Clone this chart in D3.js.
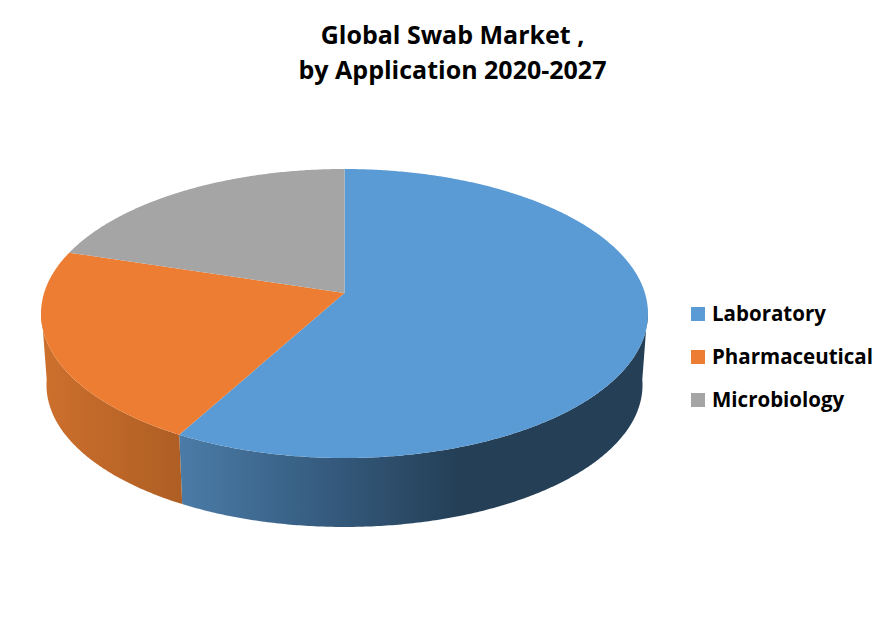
<!DOCTYPE html>
<html>
<head>
<meta charset="utf-8">
<script src="https://cdn.jsdelivr.net/npm/d3@7"></script>
<style>
  html, body { margin: 0; padding: 0; background: #fff; }
  text { font-family: "Open Sans", sans-serif; font-weight: 700; fill: #000; }
</style>
</head>
<body>
<div id="vis"></div>
<script>
const categories = ["Laboratory", "Pharmaceutical", "Microbiology"];
const shares = [58, 21.8, 20.2];
const topColors = ["#5b9bd5", "#ec7d32", "#a5a5a5"];
const titleLines = ["Global Swab Market ,", "by Application 2020-2027"];

const width = 893, height = 623;

let svg = d3.select("#vis").append("svg")
  .attr("width", width)
  .attr("height", height)
  .style("display", "block");

// the pie is tilted with perspective, so the apex is not the middle of the ellipse
const apex = { x: 344.5, y: 293 };
const tilt = 0.1419, scaleU = 300.4, scaleV = 141.6;
// the lower rim is a bit smaller and further down
const rimScale = 0.982, rimShift = 77.2;

function topPoint(a) {
  const u = Math.sin(a), v = -Math.cos(a);
  const w = 1 - tilt * v;
  return [apex.x + scaleU * u / w, apex.y + scaleV * v / w];
}

function rimPoint(a) {
  const p = topPoint(a);
  return [apex.x + (p[0] - apex.x) * rimScale, p[1] * rimScale + rimShift];
}

const line = d3.line();
const step = Math.PI / 360;
const toRad = d3.scaleLinear().domain([0, 180]).range([0, Math.PI]);

const slices = d3.pie().sort(null).value(d => d)(shares);

// sides first, top faces go over them
const defs = svg.append("defs");

function sideGradient(id, stops, x1, x2) {
  const g = defs.append("linearGradient")
    .attr("id", id)
    .attr("gradientUnits", "userSpaceOnUse")
    .attr("x1", x1).attr("x2", x2)
    .attr("y1", 0).attr("y2", 0);
  stops.forEach(s => g.append("stop").attr("offset", s[0]).attr("stop-color", s[1]));
}

sideGradient("sideBlue", [[0, "#4a7ba6"], [0.5, "#365c80"], [1, "#243f56"]], 183, 460);
sideGradient("sideOrange", [[0, "#cd702d"], [1, "#ae5e24"]], 41, 183);

const frontStart = toRad(96), frontEnd = toRad(264);
const sideFills = ["url(#sideBlue)", "url(#sideOrange)"];

slices.slice(0, 2).forEach((s, i) => {
  const a0 = Math.max(s.startAngle, frontStart), a1 = Math.min(s.endAngle, frontEnd);
  const angles = d3.range(a0, a1, step).concat([a1]);
  const pts = angles.map(topPoint).concat(angles.slice().reverse().map(rimPoint));
  svg.append("path")
    .attr("d", line(pts) + "Z")
    .attr("fill", sideFills[i]);
});

slices.forEach((s, i) => {
  const angles = d3.range(s.startAngle, s.endAngle, step).concat([s.endAngle]);
  const pts = [[apex.x, apex.y]].concat(angles.map(topPoint));
  svg.append("path")
    .attr("d", line(pts) + "Z")
    .attr("fill", topColors[i]);
});

// title
svg.selectAll(".title")
  .data(titleLines)
  .join("text")
  .attr("class", "title")
  .attr("x", 452.5)
  .attr("y", (d, i) => 44 + i * 35)
  .attr("text-anchor", "middle")
  .style("font-size", "25px")
  .text(d => d);

// legend
const legendY = d3.scalePoint().domain(categories).range([314, 400]);

svg.selectAll(".swatch")
  .data(categories)
  .join("rect")
  .attr("class", "swatch")
  .attr("x", 691)
  .attr("y", d => legendY(d) - 7)
  .attr("width", 14)
  .attr("height", 14)
  .attr("fill", (d, i) => topColors[i]);

svg.selectAll(".label")
  .data(categories)
  .join("text")
  .attr("class", "label")
  .attr("x", 712)
  .attr("y", d => legendY(d) + 7)
  .style("font-size", "20.5px")
  .text(d => d);
</script>
</body>
</html>
